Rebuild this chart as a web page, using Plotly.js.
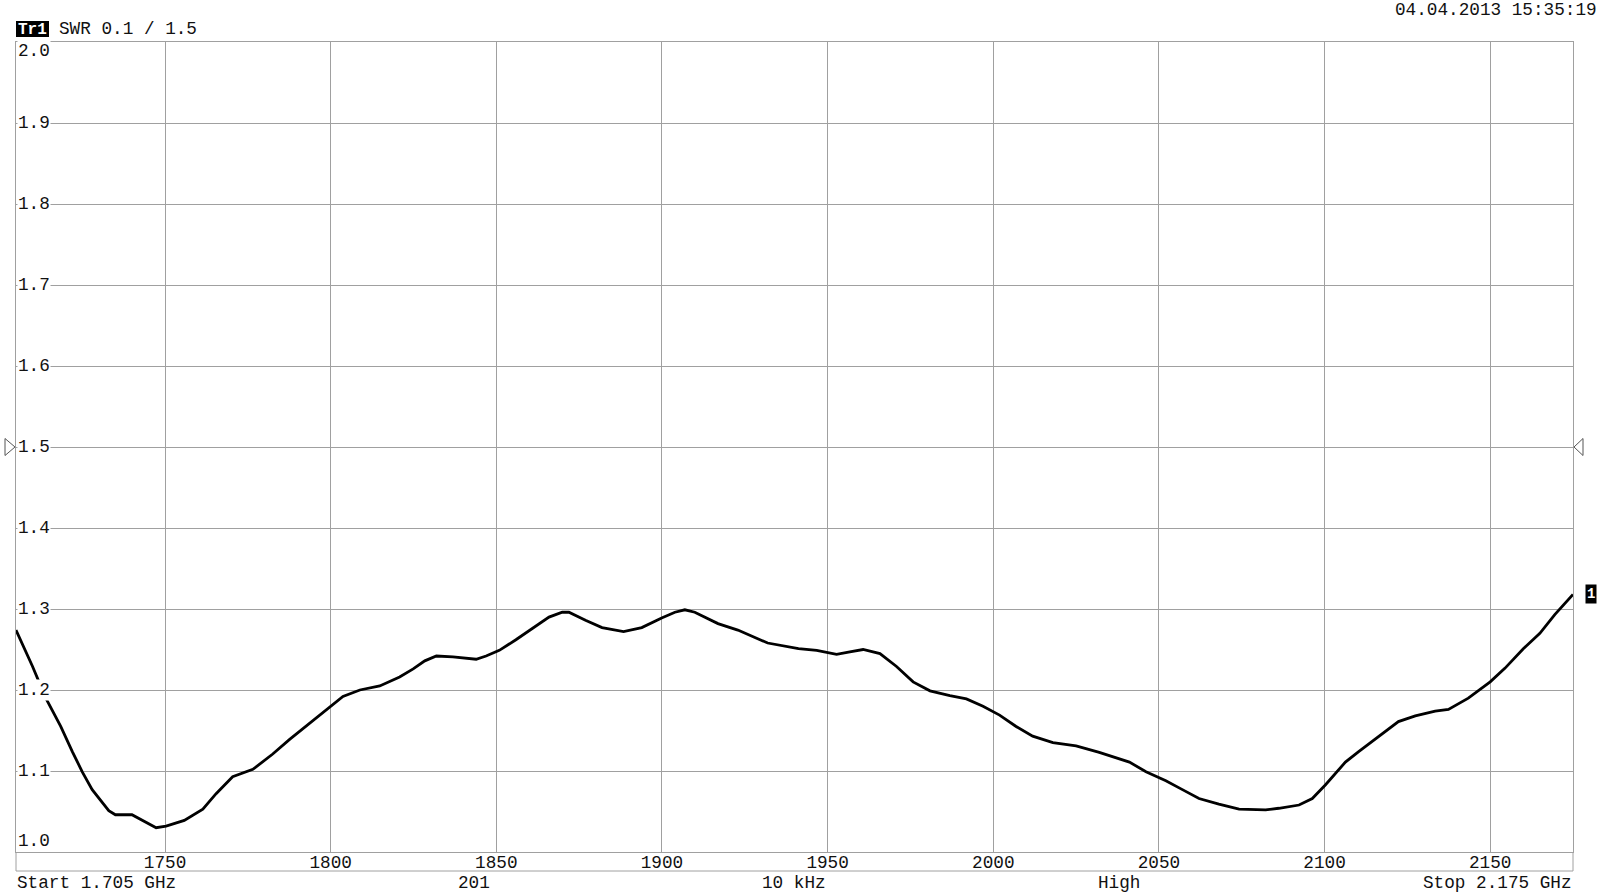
<!DOCTYPE html>
<html>
<head>
<meta charset="utf-8">
<script src="https://cdn.plot.ly/plotly-3.0.1.min.js"></script>
<style>
  html, body { margin: 0; padding: 0; background: #fff; }
  #chart { width: 1600px; height: 894px; }
</style>
</head>
<body>
<div id="chart"></div>
<script>
// ---- data ----
const freqMHz = [
  1705, 1710, 1714, 1718.5, 1722, 1725, 1728, 1733, 1735, 1740,
  1747.3, 1750.3, 1755.8, 1761.4, 1765.4, 1770.4, 1776.5, 1782.5, 1787.6, 1796.7,
  1803.7, 1808.8, 1814.8, 1820.8, 1824.9, 1828.4, 1831.9, 1836.9, 1843.9, 1846.9,
  1850.9, 1855.9, 1860.9, 1865.9, 1869.9, 1871.9, 1876.9, 1881.9, 1888.4, 1893.9,
  1899.9, 1903.9, 1906.9, 1909.9, 1916.9, 1922.9, 1931.9, 1941.2, 1946.7, 1952.7,
  1956.7, 1960.7, 1965.8, 1970.8, 1975.8, 1980.9, 1986.9, 1991.9, 1996.9, 2001.9,
  2006.9, 2011.9, 2018, 2025, 2032, 2041.1, 2046.1, 2052.1, 2057.1, 2062.1,
  2068.1, 2074.2, 2082.2, 2086.2, 2092.3, 2096.3, 2100.3, 2106.3, 2110.3, 2116.3,
  2122.3, 2127.4, 2133.4, 2137.4, 2143.4, 2150, 2154.5, 2160, 2165, 2169.5, 2175
];
const swr = [
  1.274, 1.229, 1.190, 1.155, 1.124, 1.099, 1.077, 1.051, 1.046, 1.046,
  1.030, 1.032, 1.039, 1.053, 1.072, 1.093, 1.102, 1.121, 1.139, 1.169,
  1.192, 1.200, 1.205, 1.216, 1.226, 1.236, 1.242, 1.241, 1.238, 1.242,
  1.249, 1.262, 1.276, 1.290, 1.296, 1.296, 1.286, 1.277, 1.272, 1.277,
  1.289, 1.296, 1.299, 1.296, 1.282, 1.274, 1.258, 1.251, 1.249, 1.244,
  1.247, 1.250, 1.245, 1.229, 1.210, 1.199, 1.193, 1.189, 1.180, 1.169,
  1.155, 1.143, 1.135, 1.131, 1.123, 1.111, 1.099, 1.088, 1.077, 1.066,
  1.059, 1.053, 1.052, 1.054, 1.058, 1.066, 1.083, 1.111, 1.124, 1.142,
  1.161, 1.168, 1.174, 1.176, 1.190, 1.210, 1.227, 1.251, 1.270, 1.293, 1.318
];
const xTickVals = [1750, 1800, 1850, 1900, 1950, 2000, 2050, 2100, 2150];
const xTickText = ["1750", "1800", "1850", "1900", "1950", "2000", "2050", "2100", "2150"];
const yTickVals = [1.0, 1.1, 1.2, 1.3, 1.4, 1.5, 1.6, 1.7, 1.8, 1.9, 2.0];
const yTickText = ["1.0", "1.1", "1.2", "1.3", "1.4", "1.5", "1.6", "1.7", "1.8", "1.9", "2.0"];
const xRange = [1705, 2175];
const yRange = [1.0, 2.0];
const refLevel = 1.5;
const traceName = "Tr1";
const headerText = "SWR 0.1 / 1.5";
const dateText = "04.04.2013 15:35:19";
const footerTexts = ["Start 1.705 GHz", "201", "10 kHz", "High", "Stop 2.175 GHz"];
const markerLabel = "1";

// ---- styling ----
const FONT = "Liberation Mono, DejaVu Sans Mono, monospace";
const FS = 17.7;
const TXT = "#111111";
const GRID = "#a0a0a0";
const plotW = 1557, plotH = 810; // plot area in px
const px2paperY = (dy) => dy / plotH;
const px2paperX = (dx) => dx / plotW;

const annotations = [];

// y tick labels drawn inside the plot over a white box
yTickVals.forEach((v, i) => {
  let ys = 0;
  if (i === 0) ys = 11;
  if (i === yTickVals.length - 1) ys = -9;
  annotations.push({
    xref: "paper", x: 0, xanchor: "left", xshift: 1,
    yref: "y", y: v, yanchor: "middle", yshift: ys,
    text: yTickText[i], showarrow: false,
    bgcolor: "#ffffff", borderpad: 0,
    font: { family: FONT, size: FS, color: TXT }
  });
});

// header
annotations.push({
  xref: "paper", x: px2paperX(16.5), xanchor: "center",
  yref: "paper", y: 1 + px2paperY(852 - 29.5 - 810), yanchor: "middle", yshift: -1,
  text: "<b>" + traceName + "</b>", showarrow: false, borderpad: 0,
  font: { family: FONT, size: 16, color: "#ffffff" }
});
annotations.push({
  xref: "paper", x: px2paperX(42), xanchor: "left",
  yref: "paper", y: 1 + px2paperY(852 - 29.5 - 810), yanchor: "middle",
  text: headerText, showarrow: false, borderpad: 0,
  font: { family: FONT, size: FS, color: TXT }
});
annotations.push({
  xref: "paper", x: px2paperX(1598 - 16), xanchor: "right",
  yref: "paper", y: 1 + px2paperY(852 - 10 - 810), yanchor: "middle",
  text: dateText, showarrow: false, borderpad: 0,
  font: { family: FONT, size: FS, color: TXT }
});

// footer
const footerX = [0, px2paperX(474 - 16), px2paperX(794 - 16), px2paperX(1119 - 16), 1];
const footerAnchor = ["left", "center", "center", "center", "right"];
footerTexts.forEach((t, i) => {
  annotations.push({
    xref: "paper", x: footerX[i], xanchor: footerAnchor[i],
    yref: "paper", y: -px2paperY(883 - 852), yanchor: "middle",
    text: t, showarrow: false, borderpad: 0,
    font: { family: FONT, size: FS, color: TXT }
  });
});

// marker "1" at the end of the trace
annotations.push({
  xref: "x", x: freqMHz[freqMHz.length - 1], xanchor: "left", xshift: 12,
  yref: "y", y: swr[swr.length - 1], yanchor: "middle", yshift: 0,
  text: "<b>" + markerLabel + "</b>", showarrow: false, bgcolor: "#000000", borderpad: 1,
  font: { family: FONT, size: 14, color: "#ffffff" }
});

const stripH = 19 / plotH;
const shapes = [
  { type: "line", xref: "paper", yref: "paper", x0: 0, x1: 0, y0: 0, y1: -stripH, line: { color: GRID, width: 1 } },
  { type: "line", xref: "paper", yref: "paper", x0: 1, x1: 1, y0: 0, y1: -stripH, line: { color: GRID, width: 1 } },
  { type: "line", xref: "paper", yref: "paper", x0: 0, x1: 1, y0: -stripH, y1: -stripH, line: { color: GRID, width: 1 } },
  { type: "rect", xref: "paper", yref: "paper",
    x0: 0, x1: px2paperX(33), y0: 1 + px2paperY(852 - 37 - 810), y1: 1 + px2paperY(852 - 21 - 810),
    fillcolor: "#000000", line: { width: 0 }, layer: "below" },
  { type: "path", xref: "paper", xsizemode: "pixel", xanchor: 0,
    yref: "y", ysizemode: "pixel", yanchor: refLevel,
    path: "M -11 8.5 L -1 0 L -11 -8.5 Z", fillcolor: "#ffffff", line: { color: "#555555", width: 1 } },
  { type: "path", xref: "paper", xsizemode: "pixel", xanchor: 1,
    yref: "y", ysizemode: "pixel", yanchor: refLevel,
    path: "M 1 0 L 10 8.5 L 10 -8.5 Z", fillcolor: "#ffffff", line: { color: "#555555", width: 1 } }
];

const trace = {
  type: "scatter", mode: "lines",
  x: freqMHz, y: swr,
  line: { color: "#000000", width: 2.8 },
  hoverinfo: "skip"
};

const layout = {
  width: 1600, height: 894,
  margin: { l: 16, r: 27, t: 42, b: 42, pad: 0 },
  paper_bgcolor: "#ffffff", plot_bgcolor: "#ffffff",
  showlegend: false,
  xaxis: {
    range: xRange, tickvals: xTickVals, ticktext: xTickText,
    showgrid: true, gridcolor: GRID, gridwidth: 1,
    showline: true, mirror: true, linecolor: GRID, linewidth: 1,
    zeroline: false, ticks: "", ticklabelstandoff: -6,
    tickfont: { family: FONT, size: FS, color: TXT },
    fixedrange: true
  },
  yaxis: {
    range: yRange, tick0: 1.0, dtick: 0.1,
    showticklabels: false,
    showgrid: true, gridcolor: GRID, gridwidth: 1,
    showline: true, mirror: true, linecolor: GRID, linewidth: 1,
    zeroline: false, ticks: "", fixedrange: true
  },
  annotations: annotations,
  shapes: shapes
};

Plotly.newPlot("chart", [trace], layout, { displayModeBar: false, staticPlot: true });
</script>
</body>
</html>
